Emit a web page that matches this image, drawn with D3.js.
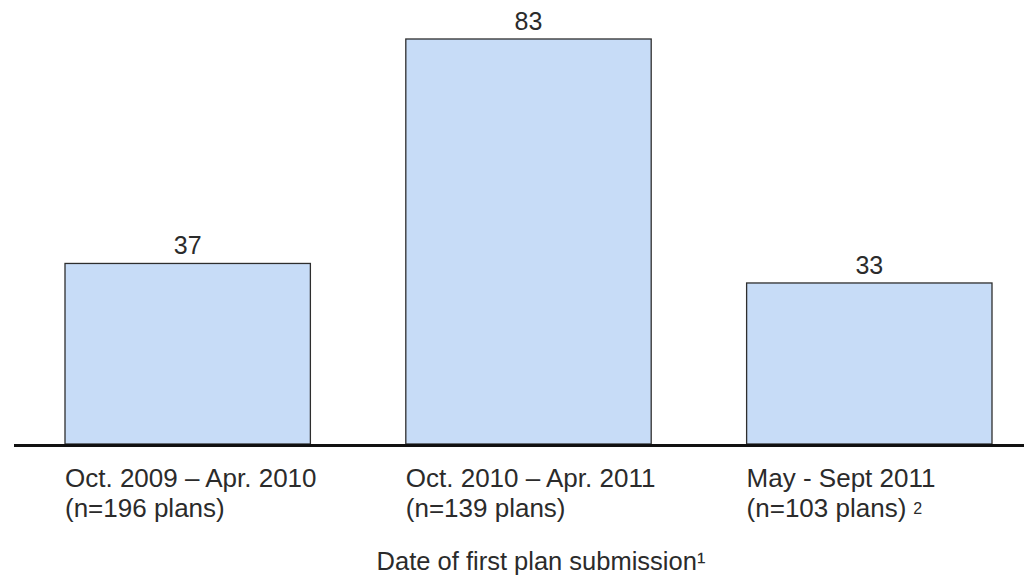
<!DOCTYPE html>
<html lang="en">
<head>
  <meta charset="UTF-8">
  <title>Date of first plan submission</title>
  <style>
    body {
      margin: 0;
      padding: 0;
      background: #fff;
    }
    svg text {
      font-family: "Liberation Sans", Arial, Helvetica, sans-serif;
      fill: #2b2b2b;
    }
    .bar {
      fill: #c7dcf7;
      stroke: #2e2e2e;
      stroke-width: 1.3;
    }
    .baseline {
      stroke: #111;
      stroke-width: 3;
    }
  </style>
</head>
<body>
  <div id="chart"></div>
  <script src="https://d3js.org/d3.v7.min.js"></script>
  <script>
    const periods = ["Oct. 2009 \u2013 Apr. 2010", "Oct. 2010 \u2013 Apr. 2011", "May - Sept 2011"];
    const planCounts = ["(n=196 plans)", "(n=139 plans)", "(n=103 plans)"];
    const footnotes = ["", "", "2"];
    const values = [37, 83, 33];
    const axisTitle = "Date of first plan submission\u00b9";

    const width = 1024;
    const height = 577;
    const baseY = 444;

    const svg = d3.select("#chart")
      .append("svg")
      .attr("width", width)
      .attr("height", height);

    const x = d3.scaleBand()
      .domain(periods)
      .range([65, 992])
      .paddingInner(0.28)
      .paddingOuter(0);

    const y = d3.scaleLinear()
      .domain([0, d3.max(values)])
      .range([baseY, 39]);

    const rows = periods.map((p, i) => ({ period: p, count: planCounts[i], note: footnotes[i], value: values[i] }));

    // Bars
    svg.selectAll(".bar")
      .data(rows)
      .enter()
      .append("rect")
      .attr("class", "bar")
      .attr("x", d => x(d.period))
      .attr("y", d => y(d.value))
      .attr("width", x.bandwidth())
      .attr("height", d => baseY - y(d.value));

    // Value labels
    svg.selectAll(".value")
      .data(rows)
      .enter()
      .append("text")
      .attr("class", "value")
      .attr("x", d => x(d.period) + x.bandwidth() / 2)
      .attr("y", d => y(d.value) - 9)
      .attr("text-anchor", "middle")
      .style("font-size", "25px")
      .text(d => d.value);

    // Baseline
    svg.append("line")
      .attr("class", "baseline")
      .attr("x1", 14)
      .attr("x2", width)
      .attr("y1", baseY + 1.5)
      .attr("y2", baseY + 1.5);

    // Category labels
    const cat = svg.selectAll(".cat")
      .data(rows)
      .enter()
      .append("text")
      .attr("class", "cat")
      .attr("x", d => x(d.period))
      .attr("y", 487)
      .style("font-size", "26px");

    cat.append("tspan")
      .text(d => d.period);

    cat.append("tspan")
      .attr("x", d => x(d.period))
      .attr("dy", 30)
      .text(d => d.count);

    cat.filter(d => d.note)
      .append("tspan")
      .attr("dx", 7)
      .attr("dy", -3)
      .style("font-size", "16px")
      .text(d => d.note);

    // Axis title
    svg.append("text")
      .attr("x", 541)
      .attr("y", 570)
      .attr("text-anchor", "middle")
      .style("font-size", "25.5px")
      .text(axisTitle);
  </script>
</body>
</html>
